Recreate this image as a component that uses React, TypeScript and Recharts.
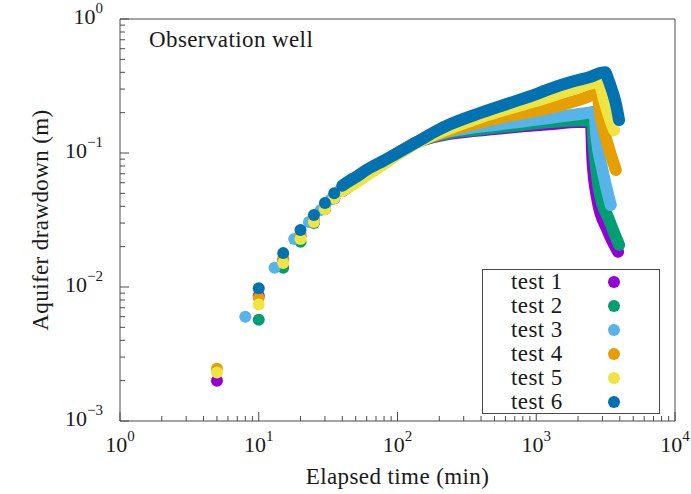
import React from "react";
import { ComposedChart, Line, Scatter, XAxis, YAxis, Legend } from "recharts";

const TESTS = ["test 1", "test 2", "test 3", "test 4", "test 5", "test 6"];
const COLORS = ["#9400d3", "#009e73", "#56b4e9", "#e69f00", "#f0e442", "#0072b2"];

// first readings, far enough apart to show as separate dots: [time (min), drawdown (m)]
const early1 = [[5, 0.002], [10, 0.0086], [15, 0.016], [20, 0.024], [25, 0.031], [30, 0.0385], [35, 0.046]];
const early2 = [[10, 0.0057], [15, 0.0139], [20, 0.0218], [25, 0.03], [30, 0.038], [35, 0.046]];
const early3 = [[8, 0.006], [13, 0.0139], [18, 0.0228], [23, 0.0305], [28, 0.0375], [33, 0.045]];
const early4 = [[5, 0.00245], [10, 0.0083], [15, 0.0164], [20, 0.025], [25, 0.032], [30, 0.0395], [35, 0.047]];
const early5 = [[5, 0.0023], [10, 0.0074], [15, 0.0151], [20, 0.0228], [25, 0.0305], [30, 0.038], [35, 0.046]];
const early6 = [[10, 0.0098], [15, 0.0179], [20, 0.0266], [25, 0.0344], [30, 0.0424], [35, 0.05]];

// dense readings (pumping + recovery) that merge into a band
const band1 = [
  [40, 0.052], [50, 0.061], [60, 0.069], [80, 0.084], [100, 0.099], [137, 0.12], [180, 0.131],
  [237, 0.139], [350, 0.146], [500, 0.151], [800, 0.158], [1240, 0.164], [2040, 0.17], [2474, 0.17],
  [2540, 0.0887], [2760, 0.0446], [3260, 0.0266], [3888, 0.0183],
];
const band2 = [
  [40, 0.052], [50, 0.061], [60, 0.069], [80, 0.084], [100, 0.099], [137, 0.12], [180, 0.132],
  [237, 0.141], [350, 0.148], [500, 0.154], [800, 0.162], [1240, 0.17], [2000, 0.175], [2512, 0.175],
  [2615, 0.105], [2838, 0.053], [3352, 0.0316], [3953, 0.0206],
];
const band3 = [
  [38, 0.052], [50, 0.062], [60, 0.07], [80, 0.085], [100, 0.099], [137, 0.12], [180, 0.134],
  [237, 0.145], [350, 0.155], [500, 0.162], [800, 0.172], [1240, 0.182], [1800, 0.192], [2400, 0.2],
  [2615, 0.203], [2716, 0.132], [3000, 0.0747], [3445, 0.0409],
];
const band4 = [
  [40, 0.054], [50, 0.062], [60, 0.07], [80, 0.085], [100, 0.1], [150, 0.125], [237, 0.147],
  [400, 0.17], [700, 0.193], [1000, 0.207], [1240, 0.217], [1800, 0.24], [2400, 0.266], [2716, 0.287],
  [2917, 0.187], [3260, 0.118], [3743, 0.0747],
];
const band5 = [
  [40, 0.052], [50, 0.06], [60, 0.068], [80, 0.083], [100, 0.097], [150, 0.124], [237, 0.152],
  [400, 0.185], [700, 0.22], [1000, 0.245], [1240, 0.262], [1800, 0.298], [2400, 0.327], [2806, 0.34],
  [3085, 0.249], [3352, 0.187], [3640, 0.148],
];
const band6 = [
  [40, 0.057], [45, 0.062], [50, 0.066], [60, 0.075], [80, 0.088], [100, 0.1], [150, 0.127],
  [190, 0.146], [237, 0.163], [400, 0.2], [700, 0.243], [1000, 0.275], [1240, 0.3], [1800, 0.34],
  [2400, 0.368], [3135, 0.4], [3300, 0.355], [3445, 0.313], [3600, 0.272], [3743, 0.235], [3953, 0.176],
];

const X_DECADES = [1, 10, 100, 1000];
const Y_DECADES = [0.001, 0.01, 0.1];

const EARLY = [early1, early2, early3, early4, early5, early6];
const BANDS = [band1, band2, band3, band4, band5, band6];

const toRows = (pts: number[][]) => pts.map(([t, s]) => ({ t, s }));

const logTicks = (decades: number[]) => {
  const out: number[] = [];
  decades.forEach((d) => {
    for (let k = 1; k <= 9; k++) out.push(+(d * k).toPrecision(6));
  });
  out.push(decades[decades.length - 1] * 10);
  return out;
};
const xTicks = logTicks(X_DECADES);
const yTicks = logTicks(Y_DECADES);

const FONT = '"Liberation Serif", "DejaVu Serif", "Times New Roman", serif';
const INK = "#1a1a1a";
const FRAME = "#4a4a4a";

const isMajor = (v: number) => Math.abs(Math.log10(v) - Math.round(Math.log10(v))) < 1e-6;
const power = (v: number) => String(Math.round(Math.log10(v))).replace("-", "\u2212");

function Power({ v, ...rest }: any) {
  return (
    <text style={{ fontFamily: FONT }} fontSize={22} fill={INK} {...rest}>
      10
      <tspan dy={-11} fontSize={15}>{power(v)}</tspan>
    </text>
  );
}

function BottomTick({ x, y, payload }: any) {
  const major = isMajor(payload.value);
  return (
    <g>
      <line x1={x} x2={x} y1={y} y2={y - (major ? 9 : 5)} stroke={FRAME} />
      {major && <Power v={payload.value} x={x} y={y + 31} textAnchor="middle" />}
    </g>
  );
}

function TopTick({ x, y, payload }: any) {
  const major = isMajor(payload.value);
  return <line x1={x} x2={x} y1={y} y2={y + (major ? 9 : 5)} stroke={FRAME} />;
}

function LeftTick({ x, y, payload }: any) {
  const major = isMajor(payload.value);
  return (
    <g>
      <line x1={x} x2={x + (major ? 9 : 5)} y1={y} y2={y} stroke={FRAME} />
      {major && <Power v={payload.value} x={x - 17} y={y + 5} textAnchor="end" />}
    </g>
  );
}

function RightTick({ x, y, payload }: any) {
  const major = isMajor(payload.value);
  return <line x1={x} x2={x - (major ? 9 : 5)} y1={y} y2={y} stroke={FRAME} />;
}

const textStyle = { style: { fontFamily: FONT, letterSpacing: 0.4 }, fontSize: 23, fill: INK };

function LegendBox() {
  return (
    <div
      style={{
        width: 178, height: 145, border: `1px solid ${FRAME}`, boxSizing: "border-box",
        background: "#fff", fontFamily: FONT, fontSize: 23, color: INK, letterSpacing: 0.4,
      }}
    >
      {TESTS.map((name, i) => (
        <div key={name} style={{ position: "relative", height: 24, lineHeight: "24px", paddingLeft: 28 }}>
          {name}
          <span
            style={{
              position: "absolute", left: 125, top: 6, width: 12, height: 12,
              borderRadius: 6, background: COLORS[i],
            }}
          />
        </div>
      ))}
    </div>
  );
}

export default function App() {
  return (
    <div style={{ position: "absolute", left: 0, top: 0, width: 691, height: 494, background: "#fff" }}>
      <ComposedChart width={691} height={494} margin={{ top: 0, right: 0, bottom: 0, left: 0 }}>
        <XAxis
          dataKey="t" type="number" scale="log" domain={[1, 10000]} ticks={xTicks} interval={0}
          height={73} tickSize={0} tickMargin={0} tick={<BottomTick />} stroke={FRAME}
          label={{
            content: ({ viewBox }: any) => (
              <text x={viewBox.x + viewBox.width / 2} y={viewBox.y + viewBox.height - 10} textAnchor="middle" {...textStyle}>
                Elapsed time (min)
              </text>
            ),
          }}
        />
        <XAxis
          xAxisId="top" orientation="top" dataKey="t" type="number" scale="log" domain={[1, 10000]}
          ticks={xTicks} interval={0} height={19} tickSize={0} tickMargin={0} tick={<TopTick />} stroke={FRAME}
          label={{
            content: ({ viewBox }: any) => (
              <text x={viewBox.x + 29} y={viewBox.y + viewBox.height + 28} {...textStyle}>
                Observation well
              </text>
            ),
          }}
        />
        <YAxis
          dataKey="s" type="number" scale="log" domain={[0.001, 1]} ticks={yTicks} interval={0}
          width={120} tickSize={0} tickMargin={0} tick={<LeftTick />} stroke={FRAME}
          label={{
            content: ({ viewBox }: any) => {
              const cx = viewBox.x + 40;
              const cy = viewBox.y + viewBox.height / 2;
              return (
                <text x={cx} y={cy} textAnchor="middle" dominantBaseline="central" transform={`rotate(-90 ${cx} ${cy})`} {...textStyle}>
                  Aquifer drawdown (m)
                </text>
              );
            },
          }}
        />
        <YAxis
          yAxisId="right" orientation="right" dataKey="s" type="number" scale="log" domain={[0.001, 1]}
          ticks={yTicks} interval={0} width={16} tickSize={0} tickMargin={0} tick={<RightTick />} stroke={FRAME}
        />
        {TESTS.flatMap((name, i) => [
          <Line
            key={`band-${i}`} name={name} data={toRows(BANDS[i])} dataKey="s" type="monotone"
            stroke={COLORS[i]} strokeWidth={12} strokeLinecap="round" strokeLinejoin="round"
            dot={false} activeDot={false} legendType="none" isAnimationActive={false}
          />,
          <Scatter
            key={`early-${i}`} name={name} data={toRows(EARLY[i])} fill={COLORS[i]}
            shape={(p: any) => <circle cx={p.cx} cy={p.cy} r={6} fill={COLORS[i]} />}
            legendType="none" isAnimationActive={false}
          />,
        ])}
        <Legend
          layout="vertical" align="center" verticalAlign="middle" content={<LegendBox />}
          wrapperStyle={{ left: 482, top: 269, width: 178, height: 145 }}
        />
      </ComposedChart>
    </div>
  );
}
